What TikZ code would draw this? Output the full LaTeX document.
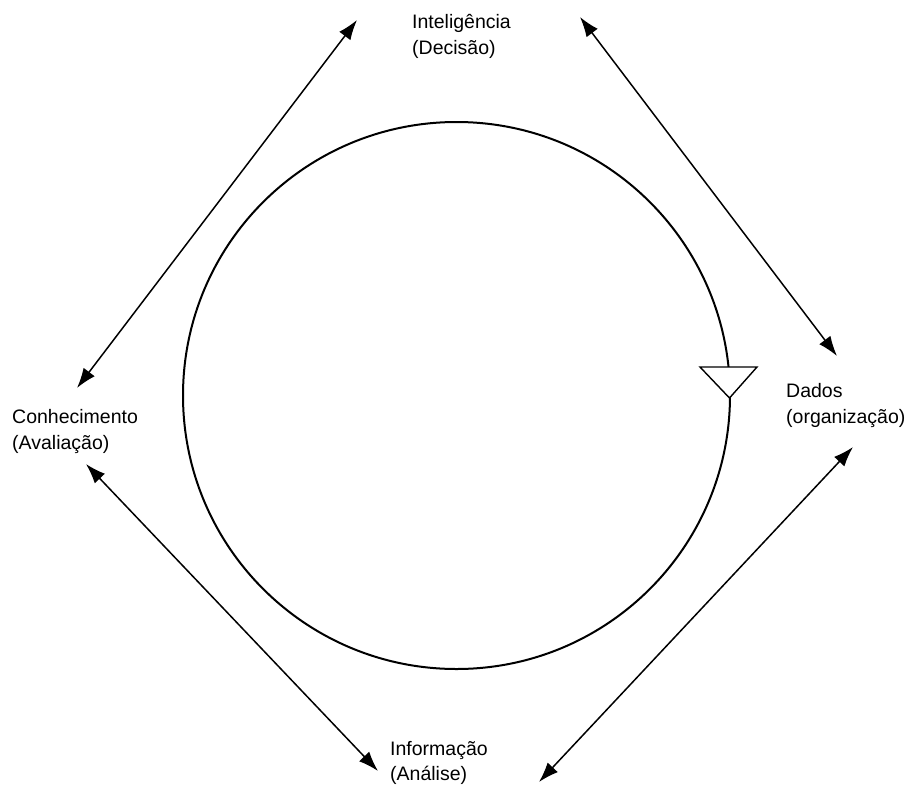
\documentclass[tikz,border=0pt]{standalone}
\usepackage{fontspec}
\setmainfont{Liberation Sans}
\usetikzlibrary{arrows.meta}
\begin{document}
\begin{tikzpicture}[x=1pt,y=-1pt,
  lbl/.style={anchor=base west, inner sep=0pt, font=\fontsize{19.5}{26}\selectfont},
  dbl/.style={{Latex[length=20pt,width=14pt]}-{Latex[length=20pt,width=14pt]}, line width=1.5pt},
  ring/.style={circle, draw, line width=2pt, inner sep=0pt, minimum size=547pt},
  tri/.style={draw, fill=white, line width=1.4pt, line join=miter}]
\useasboundingbox (0,0) rectangle (908,785);
% cycle
\node[ring] (cyc) at (456.5,395.5) {};
\draw[tri] (700,367) -- (757,367) -- (729.5,398) -- cycle;
% labels
\node[lbl] (intA) at (412,28) {Inteligência};
\node[lbl] (intB) at (412,54) {(Decisão)};
\node[lbl] (datA) at (786,397) {Dados};
\node[lbl] (datB) at (786,423) {(organização)};
\node[lbl] (conA) at (12,423) {Conhecimento};
\node[lbl] (conB) at (12,449) {(Avaliação)};
\node[lbl] (infA) at (390,755) {Informação};
\node[lbl] (infB) at (390,780) {(Análise)};
% arrow ends
\coordinate (a1) at (357,20);  \coordinate (b1) at (77,388);
\coordinate (a2) at (580,17);  \coordinate (b2) at (837,356);
\coordinate (a3) at (86,464);  \coordinate (b3) at (378,771);
\coordinate (a4) at (853,447); \coordinate (b4) at (539,782);
\draw[dbl] (a1) -- (b1);
\draw[dbl] (a2) -- (b2);
\draw[dbl] (a3) -- (b3);
\draw[dbl] (a4) -- (b4);
\end{tikzpicture}
\end{document}
